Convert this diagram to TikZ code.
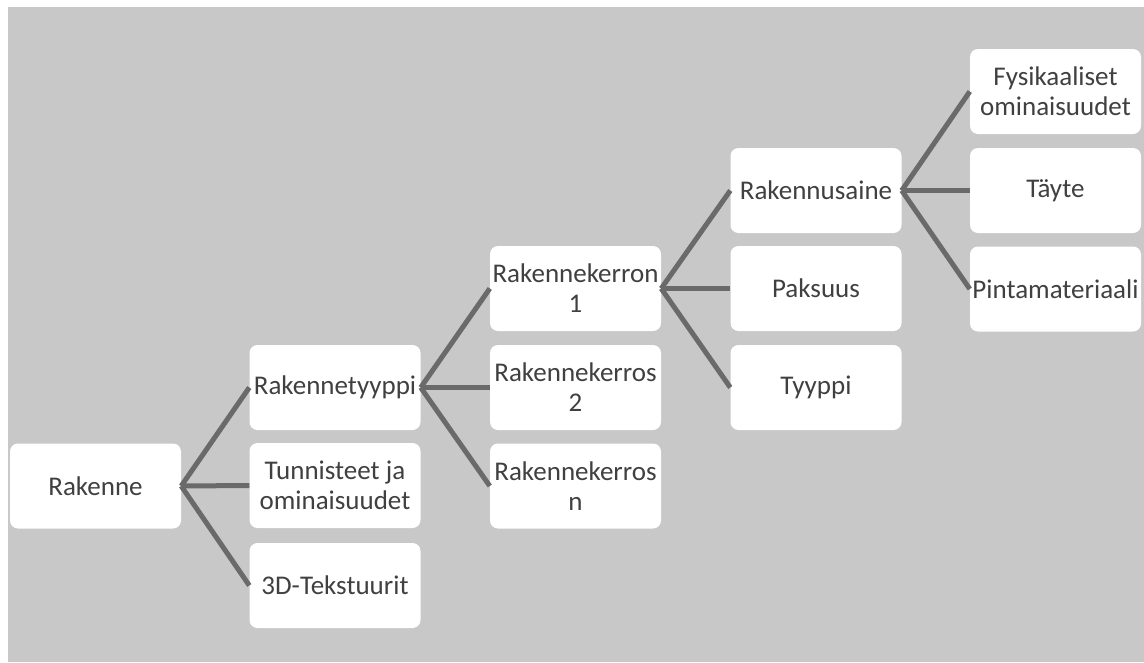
\documentclass[tikz,border=0pt]{standalone}
\usepackage{fontspec}
\setmainfont{Carlito}
\definecolor{bggray}{HTML}{C8C8C8}
\definecolor{linegray}{HTML}{6A6A6A}
\definecolor{txtgray}{HTML}{404040}
\begin{document}
\begin{tikzpicture}[x=1pt,y=-1pt,
  box/.style={rectangle, rounded corners=8pt, fill=white, minimum width=171pt, minimum height=85pt,
    inner sep=0pt, align=center, text=txtgray, font=\fontsize{27}{30}\selectfont},
  conn/.style={draw=linegray, line width=5pt}]
\useasboundingbox (0,0) rectangle (1144,662);
\fill[white] (0,0) rectangle (1144,662);
\fill[bggray] (8,7) rectangle (1144,662);
\node[box] (rak) at (95.5,486) {Rakenne};
\node[box] (typ) at (335,387.5) {Rakennetyyppi};
\node[box] (tun) at (335,485.5) {Tunnisteet ja\\ominaisuudet};
\node[box] (tek) at (335,585.5) {3D-Tekstuurit};
\node[box] (k1) at (575.5,288.5) {Rakennekerron\\1};
\node[box] (k2) at (575.5,387.5) {Rakennekerros\\2};
\node[box] (kn) at (575.5,486) {Rakennekerros\\n};
\node[box] (ra) at (816,190.5) {Rakennusaine};
\node[box] (pak) at (816,288.5) {Paksuus};
\node[box] (tyy) at (816,387.5) {Tyyppi};
\node[box] (fys) at (1055.5,91.5) {Fysikaaliset\\ominaisuudet};
\node[box] (tay) at (1055.5,190.5) {Täyte};
\node[box] (pin) at (1055.5,289) {Pintamateriaali};
\foreach \p/\c in {rak/typ, rak/tun, rak/tek, typ/k1, typ/k2, typ/kn, k1/ra, k1/pak, k1/tyy, ra/fys, ra/tay, ra/pin}
  \draw[conn] (\p.east) -- (\c.west);
\end{tikzpicture}
\end{document}
